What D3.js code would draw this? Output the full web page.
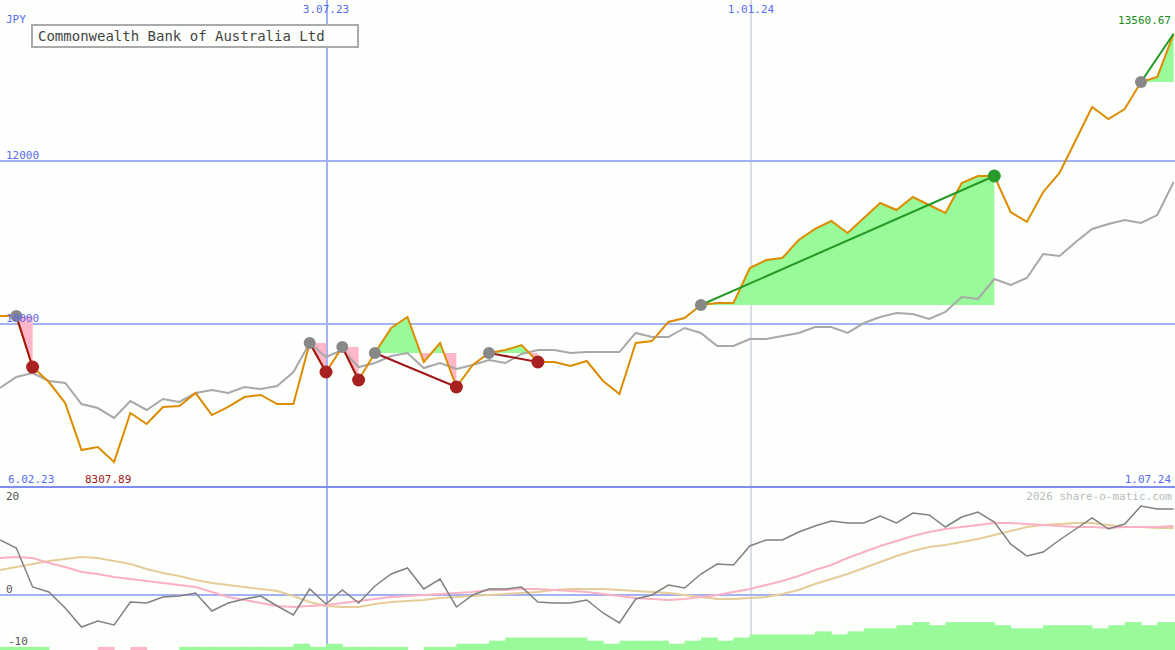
<!DOCTYPE html>
<html><head><meta charset="utf-8">
<script src="https://cdn.jsdelivr.net/npm/d3@7"></script>
<style>body{margin:0;background:#fcfffc}svg{display:block}text{font-family:"DejaVu Sans Mono",monospace}</style>
</head><body>
<script>
// weekly closes and their moving average
var close = [10098,10098,9472,9288,9030,8454,8491,8307.89,8908,8773,8982,8994,9153,8883,8982,9104,9129,9018,9018,9767,
  9411,9718,9313,9644,9951,10086,9534,9767,9227,9497,9644,9681,9742,9534,9534,9485,9546,9301,9141,9767,
  9791,10025,10074,10233,10258,10258,10687,10785,10810,11031,11166,11264,11117,11301,11485,11399,11558,11460,11362,11730,
  11816,11816,11374,11252,11620,11853,12258,12663,12515,12638,12969,13031,13560.67];
var avg = [9215,9350,9399,9301,9276,9018,8969,8847,9055,8945,9080,9043,9153,9190,9153,9227,9202,9239,9411,9767,
  9595,9681,9472,9521,9607,9644,9460,9521,9448,9497,9558,9521,9632,9681,9681,9644,9656,9656,9656,9890,
  9840,9840,9951,9890,9730,9730,9816,9816,9853,9890,9963,9963,9890,10012,10086,10135,10123,10061,10147,10331,
  10307,10552,10479,10564,10859,10834,11006,11166,11227,11276,11239,11337,11742];
// lower panel
var osc = [11,9.4,1.6,0.6,-2.6,-6.4,-5.2,-6,-1.4,-1.6,-0.4,-0.2,0.4,-3.2,-1.6,-0.8,-0.2,-2.2,-4,1.2,
  -1.8,1,-1.6,1.8,4.2,5.4,1.2,3.2,-2.4,0,1.2,1.2,1.6,-1.4,-1.6,-1.6,-1,-3.6,-5.6,-0.8,
  0,2,1.4,4.2,6.2,6,9.8,11,11,12.6,13.8,14.8,14.4,14.4,15.8,14.4,16.4,16,13.6,15.6,
  16.6,14.6,10.2,7.8,8.6,11,13.2,15.4,13.2,14.2,17.8,17.2,17.2];
var oscPink = [7.4,7.6,7.4,6.4,5.6,4.6,4.2,3.6,3.2,2.8,2.4,2,1.6,0.6,-0.4,-1,-1.6,-2.2,-2.4,-2.2,
  -2,-1.6,-1.2,-0.8,-0.4,-0.2,0,0.2,0.4,0.6,1,1,1.2,1.2,1,0.8,0.6,0.2,-0.2,-0.6,
  -0.8,-1,-0.8,-0.4,0,0.6,1.2,2,2.8,3.8,5,6,7.4,8.6,9.8,10.8,11.8,12.6,13.2,13.6,
  14,14.4,14.4,14.2,14,13.8,13.6,13.6,13.4,13.6,13.6,13.6,13.8];
var oscTan = [5,5.6,6.2,6.8,7.2,7.6,7.4,6.8,6.2,5.2,4.4,3.8,3,2.4,2,1.6,1.2,0.8,-0.2,-1.4,
  -2.2,-2.4,-2.4,-1.8,-1.4,-1.2,-1,-0.6,-0.4,-0.2,0,0.2,0.4,0.6,1,1.2,1.2,1.2,1,0.8,
  0.6,0.4,0,-0.4,-0.8,-0.8,-0.6,-0.4,0.2,1,2.2,3.2,4.2,5.4,6.6,7.8,8.8,9.6,10,10.6,
  11.2,12,12.8,13.6,14,14.2,14.4,14.4,14,13.6,13.6,13.4,13.4];
var strength = [1,1,1,0,0,0,-1,0,-1,0,0,1,1,1,1,1,1,1,2,1,
  2,1,1,1,1,0,1,1,2,2,3,4,4,4,4,4,3,2,3,3,
  3,2,3,4,3,4,5,5,5,5,6,5,6,7,7,8,9,8,9,9,
  9,8,7,7,8,8,8,7,8,9,8,9,9];
// trades: entry index, exit index (null = still open)
var trades = [[1,2],[19,20],[21,22],[23,28],[30,33],[43,61],[70,null]];
var dateLabels = [["6.02.23",0],["3.07.23",20],["1.01.24",46],["1.07.24",72]];

var width = 1175, height = 650;
var svg = d3.select("body").append("svg").attr("width", width).attr("height", height);
svg.append("rect").attr("width", width).attr("height", height).attr("fill", "#fcfffc");

var x = d3.scaleLinear().domain([0, 72]).range([0, 1173.6]);
var y = d3.scaleLinear().domain([10000, 12000]).range([324, 161]);
var yl = d3.scaleLinear().domain([0, 20]).range([595, 495]);

var grid = "#a4b2f4";
// vertical date lines
svg.append("line").attr("x1", 327).attr("x2", 327).attr("y1", 0).attr("y2", 650).attr("stroke", grid).attr("stroke-width", 2);
svg.append("line").attr("x1", 751).attr("x2", 751).attr("y1", 0).attr("y2", 650).attr("stroke", "#b8bccc").attr("stroke-width", 1);
[10000, 12000].forEach(function(v){
  svg.append("line").attr("x1", 0).attr("x2", width).attr("y1", y(v)).attr("y2", y(v)).attr("stroke", grid).attr("stroke-width", 2);
});
svg.append("line").attr("x1", 0).attr("x2", width).attr("y1", yl(0)).attr("y2", yl(0)).attr("stroke", grid).attr("stroke-width", 2);
svg.append("line").attr("x1", 0).attr("x2", width).attr("y1", 487).attr("y2", 487).attr("stroke", "#7f8ef0").attr("stroke-width", 2);

// strength bars
svg.append("g").selectAll("rect").data(strength).enter().append("rect")
  .attr("x", function(d, i){ return x(i); })
  .attr("width", x(1) - x(0) + 0.5)
  .attr("y", function(d){ return 650 - Math.abs(d) * 3.1; })
  .attr("height", function(d){ return Math.abs(d) * 3.1; })
  .attr("fill", function(d){ return d < 0 ? "#ffb6c8" : "#98fa98"; });

// trade shading
trades.forEach(function(t, k){
  var a = t[0], b = t[1] == null ? 72 : t[1];
  var lvl = close[a];
  var idx = d3.range(a, b + 1);
  var cid = "c" + k;
  var above = svg.append("clipPath").attr("id", cid + "a");
  above.append("rect").attr("x", 0).attr("width", width).attr("y", 0).attr("height", y(lvl));
  var below = svg.append("clipPath").attr("id", cid + "b");
  below.append("rect").attr("x", 0).attr("width", width).attr("y", y(lvl)).attr("height", 500);
  var area = d3.area().x(function(i){ return x(i); }).y0(y(lvl)).y1(function(i){ return y(close[i]); });
  svg.append("path").datum(idx).attr("d", area).attr("fill", "#98fa98").attr("clip-path", "url(#" + cid + "a)");
  svg.append("path").datum(idx).attr("d", area).attr("fill", "#ffb6c8").attr("clip-path", "url(#" + cid + "b)");
});

var line = d3.line().x(function(d, i){ return x(i); });
svg.append("path").datum(avg).attr("d", line.y(function(d){ return y(d); }))
  .attr("fill", "none").attr("stroke", "#a8a8a8").attr("stroke-width", 2);
svg.append("path").datum(close).attr("d", line.y(function(d){ return y(d); }))
  .attr("fill", "none").attr("stroke", "#dd8c00").attr("stroke-width", 2);

// trade lines and markers
trades.forEach(function(t){
  var a = t[0], b = t[1] == null ? 72 : t[1];
  var win = close[b] > close[a];
  svg.append("line").attr("x1", x(a)).attr("y1", y(close[a])).attr("x2", x(b)).attr("y2", y(close[b]))
    .attr("stroke", win ? "#229922" : "#a01818").attr("stroke-width", 2);
});
trades.forEach(function(t){
  svg.append("circle").attr("cx", x(t[0])).attr("cy", y(close[t[0]])).attr("r", 6).attr("fill", "#888");
  if (t[1] != null) {
    var win = close[t[1]] > close[t[0]];
    svg.append("circle").attr("cx", x(t[1])).attr("cy", y(close[t[1]])).attr("r", 6.5).attr("fill", win ? "#2a9a2a" : "#a82020");
  }
});

// lower panel lines
var ll = d3.line().x(function(d, i){ return x(i); }).y(function(d){ return yl(d); });
svg.append("path").datum(oscTan).attr("d", ll).attr("fill", "none").attr("stroke", "#e6cc9a").attr("stroke-width", 2);
svg.append("path").datum(oscPink).attr("d", ll).attr("fill", "none").attr("stroke", "#fcb0c4").attr("stroke-width", 2);
svg.append("path").datum(osc).attr("d", ll).attr("fill", "none").attr("stroke", "#808080").attr("stroke-width", 1.5);

// texts
function txt(s, tx, ty, col, anchor){
  return svg.append("text").attr("x", tx).attr("y", ty).attr("fill", col).attr("font-size", 11)
    .attr("text-anchor", anchor || "start").text(s);
}
txt("JPY", 6, 23, "#5a6af0");
txt("12000", 6, 159, "#5a6af0");
txt("10000", 6, 322, "#5a6af0");
txt(dateLabels[0][0], 8, 483, "#5a6af0");
txt(dateLabels[1][0], x(dateLabels[1][1]), 13, "#5a6af0", "middle");
txt(dateLabels[2][0], 751, 13, "#5a6af0", "middle");
txt(dateLabels[3][0], 1171, 483, "#5a6af0", "end");
txt("8307.89", 85, 483, "#a01818");
txt("13560.67", 1171, 24, "#1a8a1a", "end");
txt("2026 share-o-matic.com", 1172, 500, "#bbbbbb", "end");
txt("20", 6, 500, "#555");
txt("0", 6, 593, "#555");
txt("-10", 8, 645, "#555");

svg.append("rect").attr("x", 32).attr("y", 25).attr("width", 326).attr("height", 22)
  .attr("fill", "#fcfffc").attr("stroke", "#aaaaaa").attr("stroke-width", 2);
svg.append("text").attr("x", 38).attr("y", 41).attr("fill", "#444").attr("font-size", 14)
  .text("Commonwealth Bank of Australia Ltd");
</script>
</body></html>
